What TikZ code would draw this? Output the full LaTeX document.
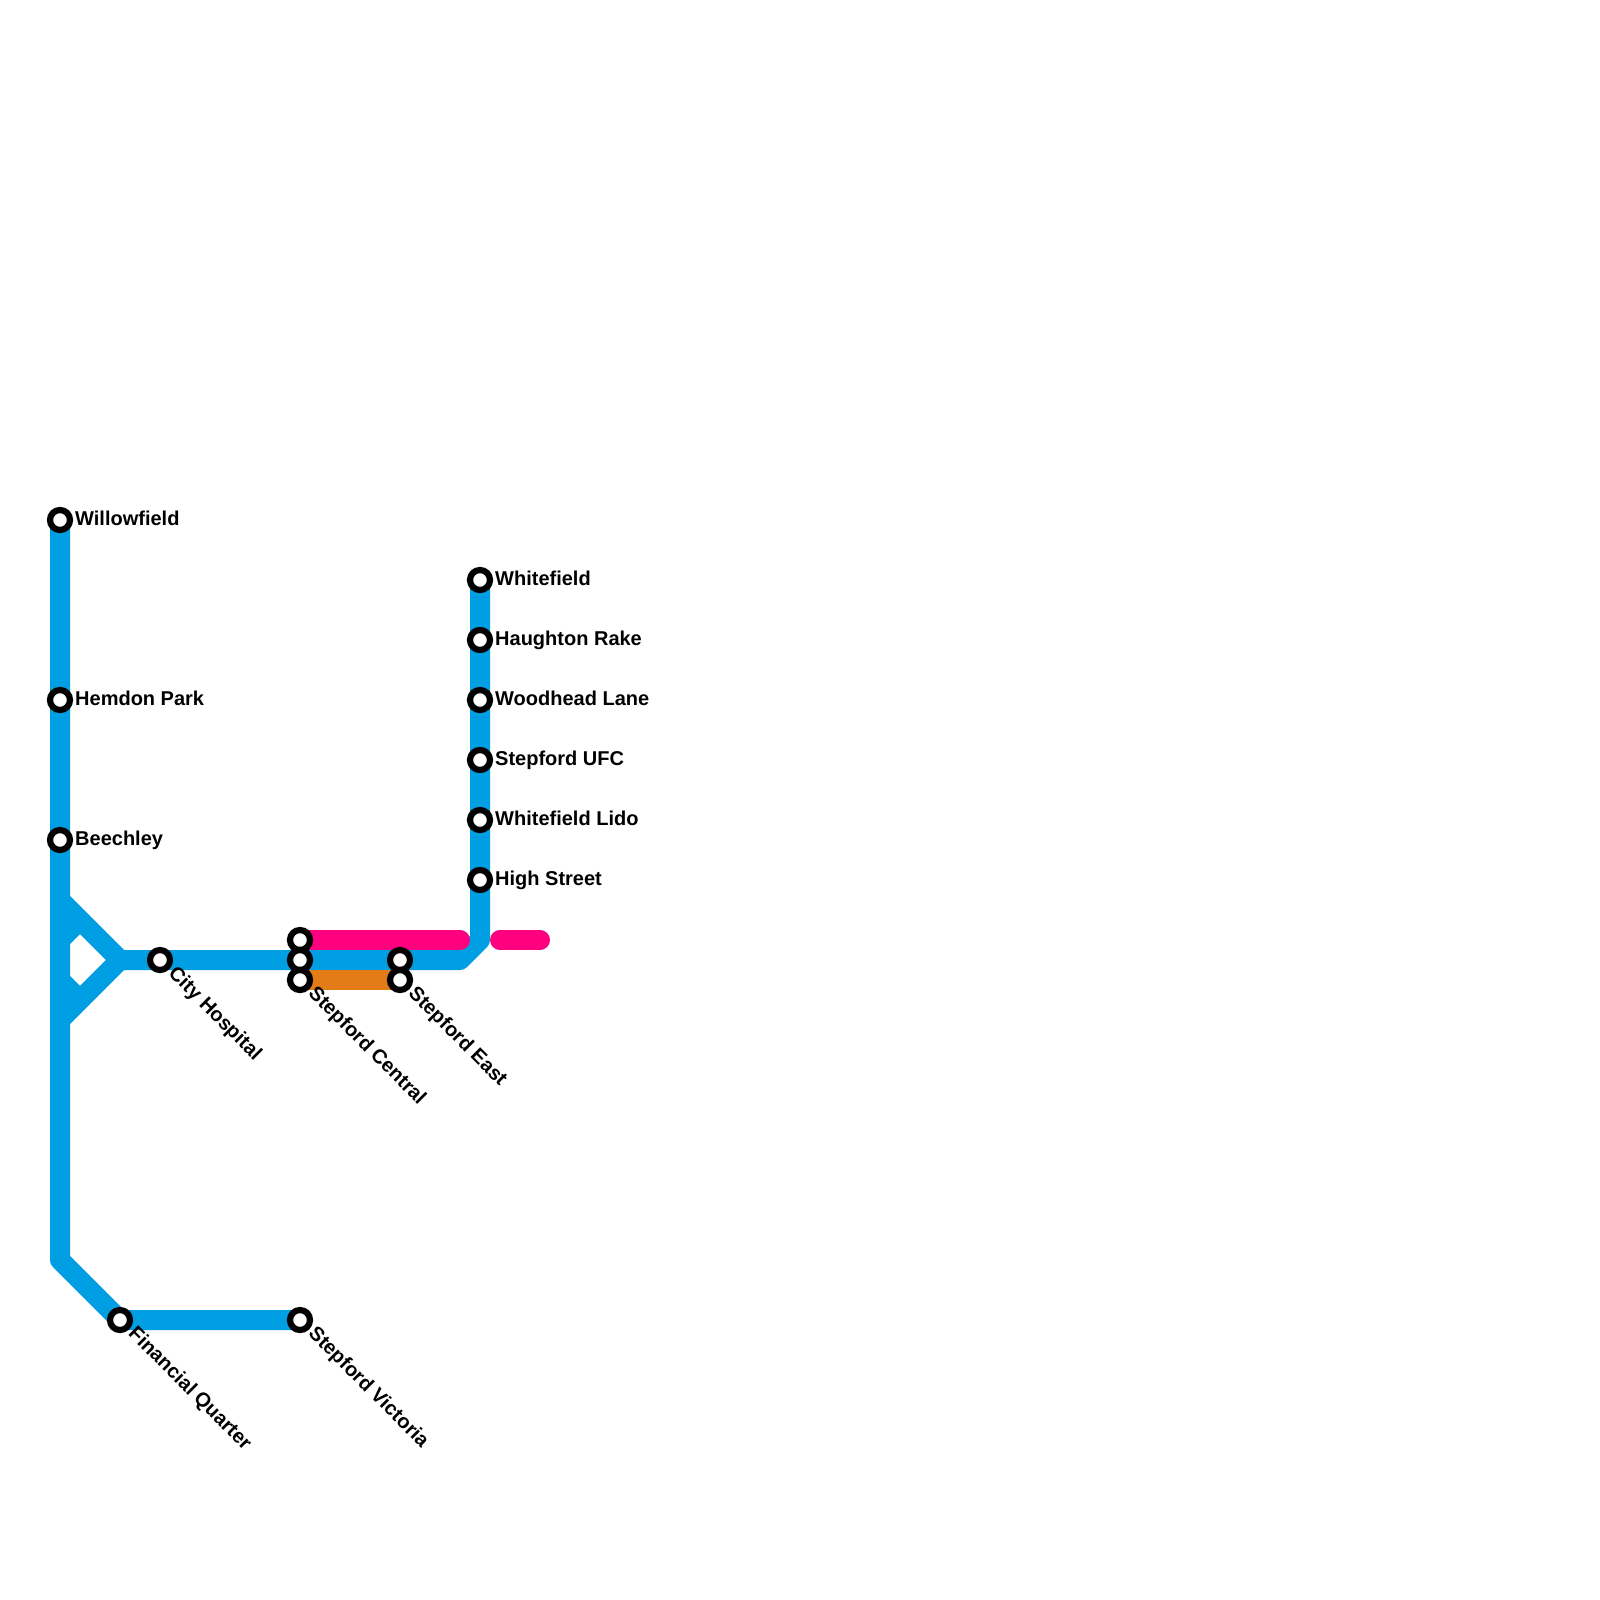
\documentclass[tikz,border=0pt]{standalone}
\usepackage{fontspec}
\setmainfont{Liberation Sans}
\definecolor{lblue}{RGB}{0,159,227}
\definecolor{lpink}{RGB}{255,0,127}
\definecolor{lorange}{RGB}{227,124,23}
\tikzset{
  track/.style={line width=20pt,line join=round},
  stn/.style={circle,draw=black,fill=white,line width=6.2pt,minimum size=20pt,inner sep=0pt,outer sep=0pt},
  lab/.style={font=\fontsize{20}{24}\selectfont\bfseries,text=black,inner sep=0pt,anchor=base west},
  dlab/.style={lab,rotate=-45}
}
\begin{document}
\begin{tikzpicture}[x=1pt,y=-1pt]
\useasboundingbox[fill=white] (0,0) rectangle (1600,1600);
% junction coordinates
\coordinate (j1) at (60,1260);
\coordinate (j2) at (120,960);
\coordinate (j3) at (60,900);
\coordinate (j4) at (60,1020);
\coordinate (j5) at (60,940);
\coordinate (j6) at (80,920);
\coordinate (j7) at (60,980);
\coordinate (j8) at (80,1000);
\coordinate (j9) at (460,960);
\coordinate (j10) at (480,940);
\coordinate (p1) at (460,940);
\coordinate (p2) at (500,940);
\coordinate (p3) at (540,940);
% stations
\path
 (60,520) coordinate (willow)
 (60,700) coordinate (hemdon)
 (60,840) coordinate (beech)
 (120,1320) coordinate (fin)
 (300,1320) coordinate (vic)
 (160,960) coordinate (city)
 (300,940) coordinate (ca)
 (300,960) coordinate (cb)
 (300,980) coordinate (cc)
 (400,960) coordinate (ea)
 (400,980) coordinate (eb)
 (480,580) coordinate (white)
 (480,640) coordinate (haugh)
 (480,700) coordinate (wood)
 (480,760) coordinate (ufc)
 (480,820) coordinate (lido)
 (480,880) coordinate (high);
% tracks
\draw[track,lblue] (willow) -- (j1) -- (fin) -- (vic);
\draw[track,lblue] (j3) -- (j2) -- (j4);
\draw[track,lblue] (j5) -- (j6);
\draw[track,lblue] (j7) -- (j8);
\draw[track,lblue] (j2) -- (j9) -- (j10) -- (white);
\draw[track,lpink,line cap=round] (ca) -- (p1);
\draw[track,lpink,line cap=round] (p2) -- (p3);
\draw[track,lorange] (cc) -- (eb);
% station markers
\foreach \n in {willow,hemdon,beech,fin,vic,city,ca,cb,cc,ea,eb,white,haugh,wood,ufc,lido,high}
  \node[stn] (s\n) at (\n) {};
% labels
\node[lab] (lwillow) at (75,525) {Willowfield};
\node[lab] (lhemdon) at (75,705) {Hemdon Park};
\node[lab] (lbeech) at (75,845) {Beechley};
\node[lab] (lwhite) at (495,585) {Whitefield};
\node[lab] (lhaugh) at (495,645) {Haughton Rake};
\node[lab] (lwood) at (495,705) {Woodhead Lane};
\node[lab] (lufc) at (495,765) {Stepford UFC};
\node[lab] (llido) at (495,825) {Whitefield Lido};
\node[lab] (lhigh) at (495,885) {High Street};
\node[dlab] (lcity) at (167.5,974.5) {City Hospital};
\node[dlab] (lcent) at (307.5,994.5) {Stepford Central};
\node[dlab] (least) at (407.5,994.5) {Stepford East};
\node[dlab] (lfin) at (127.5,1334.5) {Financial Quarter};
\node[dlab] (lvic) at (307.5,1334.5) {Stepford Victoria};
\end{tikzpicture}
\end{document}
